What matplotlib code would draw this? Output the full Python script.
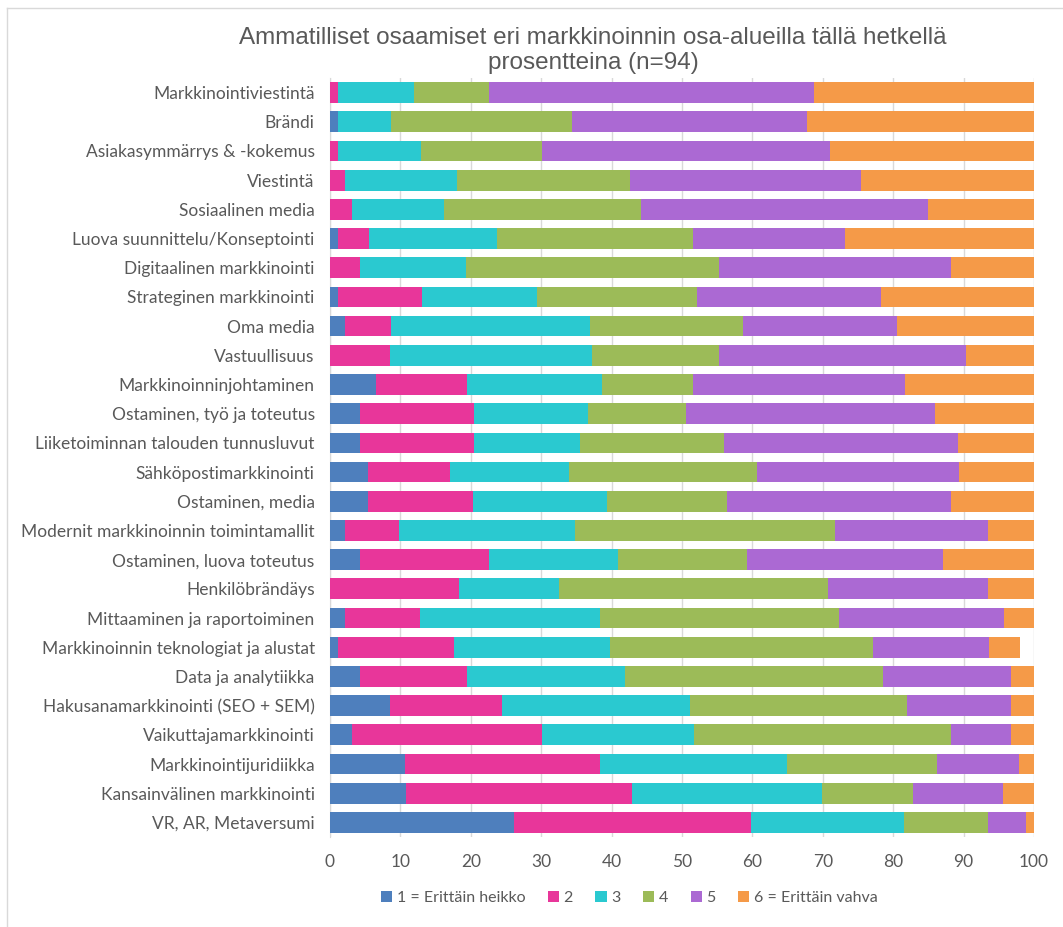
import numpy as np
import matplotlib.pyplot as plt
from matplotlib.lines import Line2D

categories = [
    "Markkinointiviestintä", "Brändi", "Asiakasymmärrys & -kokemus", "Viestintä",
    "Sosiaalinen media", "Luova suunnittelu/Konseptointi", "Digitaalinen markkinointi",
    "Strateginen markkinointi", "Oma media", "Vastuullisuus", "Markkinoinninjohtaminen",
    "Ostaminen, työ ja toteutus", "Liiketoiminnan talouden tunnusluvut",
    "Sähköpostimarkkinointi", "Ostaminen, media", "Modernit markkinoinnin toimintamallit",
    "Ostaminen, luova toteutus", "Henkilöbrändäys", "Mittaaminen ja raportoiminen",
    "Markkinoinnin teknologiat ja alustat", "Data ja analytiikka",
    "Hakusanamarkkinointi (SEO + SEM)", "Vaikuttajamarkkinointi", "Markkinointijuridiikka",
    "Kansainvälinen markkinointi", "VR, AR, Metaversumi",
]

# percentage of respondents per rating, one list per rating level
level1 = [0, 1.1, 0, 0, 0, 1.1, 0, 1.1, 2.2, 0, 6.5, 4.3, 4.3, 5.4, 5.4, 2.2, 4.3, 0, 2.2, 1.1, 4.3, 8.5, 3.2, 10.7, 10.8, 26.1]
level2 = [1.1, 0, 1.1, 2.2, 3.2, 4.4, 4.3, 12.0, 6.5, 8.5, 12.9, 16.1, 16.1, 11.7, 14.9, 7.6, 18.3, 18.4, 10.6, 16.5, 15.1, 16.0, 26.9, 27.6, 32.1, 33.7]
level3 = [10.8, 7.6, 11.9, 15.9, 13.0, 18.2, 15.0, 16.3, 28.3, 28.7, 19.3, 16.2, 15.1, 16.9, 19.1, 25.0, 18.3, 14.2, 25.5, 22.2, 22.5, 26.6, 21.6, 26.6, 27.0, 21.7]
level4 = [10.7, 25.7, 17.1, 24.5, 28.0, 27.9, 36.0, 22.8, 21.7, 18.1, 12.9, 14.0, 20.4, 26.6, 17.0, 36.9, 18.3, 38.1, 34.0, 37.3, 36.6, 30.8, 36.5, 21.3, 12.9, 12.0]
level5 = [46.2, 33.4, 40.9, 32.9, 40.7, 21.5, 32.9, 26.1, 21.8, 35.1, 30.1, 35.4, 33.3, 28.8, 31.8, 21.8, 27.9, 22.8, 23.4, 16.5, 18.2, 14.9, 8.6, 11.7, 12.8, 5.4]
level6 = [31.2, 32.2, 29.0, 24.5, 15.1, 26.9, 11.8, 21.7, 19.5, 9.6, 18.3, 14.0, 10.8, 10.6, 11.8, 6.5, 12.9, 6.5, 4.3, 4.4, 3.3, 3.2, 3.2, 2.1, 4.4, 1.1]

levels = ["1 = Erittäin heikko", "2", "3", "4", "5", "6 = Erittäin vahva"]
colors = ["#4E7FBD", "#E8369A", "#2AC9D0", "#9CBB58", "#AB69D3", "#F59A48"]

plt.rcParams['font.family'] = ['Lato', 'DejaVu Sans']
txt = "#595959"

fig = plt.figure(figsize=(10.63, 9.27), dpi=100)
ax = fig.add_axes([0.3104, 0.0971, 0.6623, 0.8188])

y = np.arange(len(categories))
left = np.zeros(len(categories))
for vals, lab, col in zip([level1, level2, level3, level4, level5, level6], levels, colors):
    ax.barh(y, vals, left=left, height=0.71, color=col, label=lab, zorder=3)
    left += np.array(vals)

ax.set_xlim(0, 100)
ax.set_ylim(len(categories) - 0.5, -0.5)
ax.set_xticks(range(0, 101, 10))
ax.set_yticks(y)
ax.set_yticklabels(categories)
ax.tick_params(axis='both', length=0, labelsize=12.5, colors=txt)
ax.tick_params(axis='x', pad=12)
ax.tick_params(axis='y', pad=11)
ax.grid(axis='x', color='#D9D9D9', linewidth=1, zorder=0)
for s in ['top', 'right', 'bottom']:
    ax.spines[s].set_visible(False)
ax.spines['left'].set_color('#D9D9D9')

fig.text(0.558, 0.959, "Ammatilliset osaamiset eri markkinoinnin osa-alueilla tällä hetkellä",
         ha='center', va='center', fontsize=17.5, color=txt, family=['Liberation Sans'])
fig.text(0.558, 0.932, "prosentteina (n=94)",
         ha='center', va='center', fontsize=17.5, color=txt, family=['Liberation Sans'])

fig.legend(loc='center', bbox_to_anchor=(0.592, 0.031), ncol=6, frameon=False,
           fontsize=11.5, handlelength=0.7, handleheight=0.7, handletextpad=0.3,
           columnspacing=1.4, labelcolor=txt)

# chart area border
fig.add_artist(Line2D([7 / 1063, 1], [1 - 8 / 927, 1 - 8 / 927], color='#D9D9D9', lw=1))
fig.add_artist(Line2D([7 / 1063, 7 / 1063], [0, 1 - 8 / 927], color='#D9D9D9', lw=1))

plt.savefig("out.png", dpi=100)
